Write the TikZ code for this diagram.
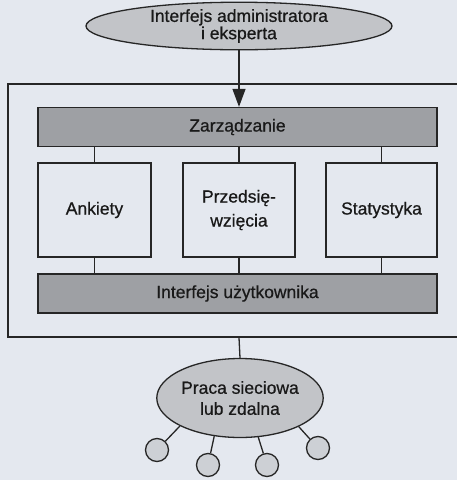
\documentclass[tikz,border=0pt]{standalone}
\usepackage{fontspec}
\setmainfont{Liberation Sans}[FakeBold=0.7]
\usetikzlibrary{shapes.geometric,arrows.meta}
\definecolor{bgc}{HTML}{E4E8EF}
\definecolor{barc}{HTML}{9EA0A4}
\definecolor{ellc}{HTML}{C2C4C8}
\definecolor{circc}{HTML}{CDD0D5}
\definecolor{linec}{HTML}{262626}
\tikzset{
  lw/.style={line width=1.3pt, draw=linec},
  txt/.style={font=\fontsize{17.5}{17.5}\selectfont, text=black!90, align=center, inner sep=0pt},
  bar/.style={lw, fill=barc, txt, minimum width=399pt, minimum height=39pt},
  modbox/.style={lw, txt, font=\fontsize{17.5}{24}\selectfont, minimum height=94pt},
  ell/.style={lw, ellipse, fill=ellc, txt, inner sep=0pt},
  smallc/.style={lw, circle, fill=circc, minimum size=23pt, inner sep=0pt},
  conn/.style={lw},
}
\begin{document}
\begin{tikzpicture}[x=1pt,y=-1pt]
\fill[bgc] (0,0) rectangle (457,480);
\useasboundingbox (0,0) rectangle (457,480);

\node[lw, minimum width=462pt, minimum height=253pt, inner sep=0pt] (outer) at (239,210.5) {};

\node[ell, minimum width=306pt, minimum height=46pt, font=\fontsize{17.5}{16}\selectfont] (admin) at (239,26) {Interfejs administratora\\i eksperta};

\node[bar] (zarz) at (237.5,127) {Zarządzanie};
\node[modbox, minimum width=113pt] (ank) at (94.5,210) {Ankiety};
\node[modbox, minimum width=112pt] (prz) at (239,210) {Przedsię-\\wzięcia};
\node[modbox, minimum width=111pt] (stat) at (381.5,210) {Statystyka};
\node[bar] (user) at (237.5,293.5) {Interfejs użytkownika};

\node[ell, minimum width=149pt, minimum height=79pt, font=\fontsize{17.5}{21}\selectfont] (net) at (240,398) {Praca sieciowa\\lub zdalna};

\node[smallc] (c1) at (157,450) {};
\node[smallc] (c2) at (208,465) {};
\node[smallc] (c3) at (267,465) {};
\node[smallc] (c4) at (318,448) {};

\draw[conn, -{Triangle[length=18pt,width=13pt]}, fill=linec!80] (admin.south) -- (admin.south |- zarz.north);

\draw[conn] (ank.north) -- (ank.north |- zarz.south);
\draw[conn] (prz.north) -- (prz.north |- zarz.south);
\draw[conn] (stat.north) -- (stat.north |- zarz.south);
\draw[conn] (ank.south) -- (ank.south |- user.north);
\draw[conn] (prz.south) -- (prz.south |- user.north);
\draw[conn] (stat.south) -- (stat.south |- user.north);

\draw[conn] (outer.south) -- (net.north);
\draw[conn] (net.205) -- (c1);
\draw[conn] (net.236) -- (c2);
\draw[conn] (net.295) -- (c3);
\draw[conn] (net.334) -- (c4);
\end{tikzpicture}
\end{document}
